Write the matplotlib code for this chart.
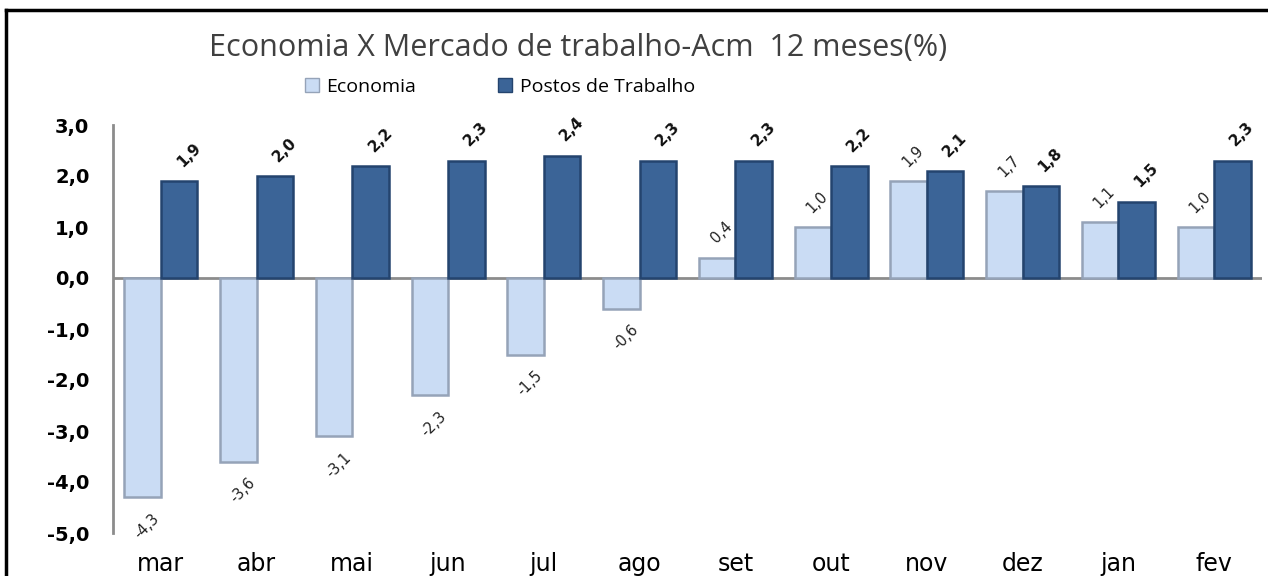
import matplotlib
matplotlib.use("Agg")
import matplotlib.pyplot as plt
from matplotlib.lines import Line2D
import numpy as np

categories = ["mar", "abr", "mai", "jun", "jul", "ago", "set", "out", "nov", "dez", "jan", "fev"]
economia = [-4.3, -3.6, -3.1, -2.3, -1.5, -0.6, 0.4, 1.0, 1.9, 1.7, 1.1, 1.0]
postos = [1.9, 2.0, 2.2, 2.3, 2.4, 2.3, 2.3, 2.2, 2.1, 1.8, 1.5, 2.3]
yticks = [3, 2, 1, 0, -1, -2, -3, -4, -5]

title = "Economia X Mercado de trabalho-Acm  12 meses(%)"

W, H = 1268, 576
fig = plt.figure(figsize=(W / 100, H / 100), dpi=100)
ax = fig.add_axes([113 / W, 1 - 533 / H, (1262 - 113) / W, (533 - 125) / H])

x = np.arange(len(categories))
bw = 0.38
c_eco, e_eco = "#cadcf4", "#95a3b8"
c_pos, e_pos = "#3b6497", "#24446e"

ax.bar(x - bw / 2, economia, bw, color=c_eco, edgecolor=e_eco, linewidth=1.8, label="Economia", zorder=2)
ax.bar(x + bw / 2, postos, bw, color=c_pos, edgecolor=e_pos, linewidth=1.8, label="Postos de Trabalho", zorder=2)

def fmt(v):
    return f"{v:.1f}".replace(".", ",")

for xi, v in zip(x, economia):
    off = (3, 18) if v >= 0 else (3, -21)
    ax.annotate(fmt(v), (xi - bw / 2, v), xytext=off, textcoords="offset points",
                ha="center", va="center", rotation=45, fontsize=10.5, color="#222222",
                family="DejaVu Sans")
for xi, v in zip(x, postos):
    ax.annotate(fmt(v), (xi + bw / 2, v), xytext=(7, 19), textcoords="offset points",
                ha="center", va="center", rotation=45, fontsize=11, fontweight="bold",
                color="#111111", family="DejaVu Sans")

ax.set_xlim(-0.5, len(categories) - 0.5)
ax.set_ylim(-5, 3)
ax.set_yticks(yticks)
ax.set_yticklabels([fmt(float(t)) for t in yticks], fontsize=14, fontweight="bold")
ax.tick_params(axis="y", length=0, pad=17)
ax.set_xticks(x)
ax.set_xticklabels(categories, fontsize=17)
ax.tick_params(axis="x", length=0, pad=14)

for s in ["top", "right", "bottom"]:
    ax.spines[s].set_visible(False)
ax.spines["left"].set_color("#8c8c8c")
ax.spines["left"].set_linewidth(2)
ax.axhline(0, color="#8c8c8c", linewidth=2, zorder=1)

fig.text(578 / W, 1 - 48 / H, title, ha="center", va="center", fontsize=22,
         color="#404040", family="Open Sans")

handles = [plt.Rectangle((0, 0), 1, 1, facecolor=c_eco, edgecolor=e_eco),
           plt.Rectangle((0, 0), 1, 1, facecolor=c_pos, edgecolor=e_pos)]
fig.legend(handles, ["Economia", "Postos de Trabalho"], loc="center",
           bbox_to_anchor=(500 / W, 1 - 87 / H), ncol=2, frameon=False,
           handlelength=0.7, handleheight=0.7, columnspacing=4.2,
           handletextpad=0.4, prop={"family": "Open Sans", "size": 14})

fig.add_artist(Line2D([6 / W, 6 / W], [0, 1 - 10 / H], color="black", linewidth=2.5, transform=fig.transFigure))
fig.add_artist(Line2D([6 / W, 1], [1 - 10 / H, 1 - 10 / H], color="black", linewidth=2.5, transform=fig.transFigure))

fig.savefig("out.png", dpi=100)
